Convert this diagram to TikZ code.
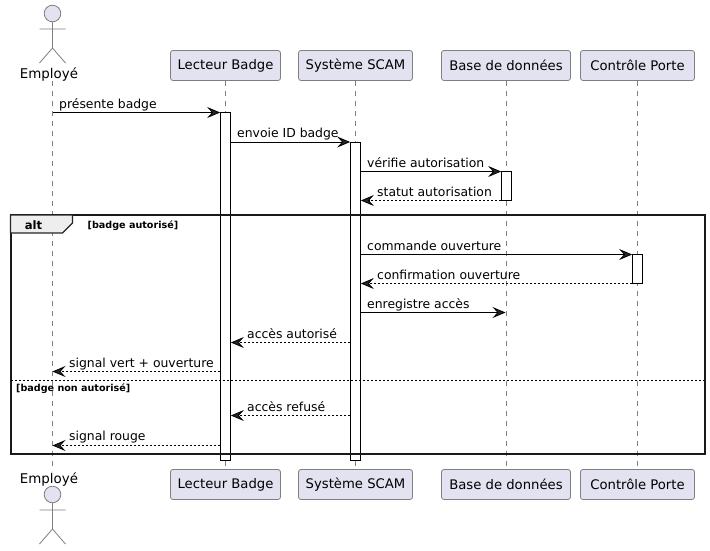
\documentclass[tikz,border=0pt]{standalone}
\usepackage{fontspec}
\setmainfont{DejaVu Sans}
\usetikzlibrary{arrows.meta}
\definecolor{partfill}{HTML}{E2E2F0}
\definecolor{partline}{HTML}{7F7F7F}
\definecolor{tabfill}{HTML}{EEEEEE}
\tikzset{
  x=1pt,y=-1pt,
  part/.style={draw=partline,fill=partfill,rounded corners=2.5pt,line width=.8pt,minimum height=30pt,inner sep=0pt,font=\fontsize{13.2}{15}\selectfont,text=black},
  actorline/.style={draw=partline,line width=.8pt},
  actorlabel/.style={font=\fontsize{13.4}{15}\selectfont,text=black,inner sep=0pt,anchor=base},
  life/.style={draw=partline,line width=.7pt,dash pattern=on 5pt off 5pt},
  actbar/.style={draw=black,fill=white,line width=.8pt},
  msg/.style={draw=black,line width=.8pt,-{Stealth[length=13pt,width=11pt,inset=5pt,fill=black!85]}},
  ret/.style={msg,dash pattern=on 2pt off 2pt},
  lab/.style={font=\fontsize{12.4}{14}\selectfont,text=black,inner sep=0pt,anchor=base west},
  guard/.style={font=\bfseries\fontsize{9.6}{11}\selectfont,inner sep=0pt,anchor=base west},
}
\begin{document}
\begin{tikzpicture}
\useasboundingbox (0,0) rectangle (710,550);
\fill[white] (0,0) rectangle (710,550);
% lifeline x positions
\coordinate (eX) at (52.5,0);
\coordinate (bX) at (505.5,0);
% participants
\node[part,minimum width=110pt] (lt) at (225.5,65.5) {Lecteur Badge};
\node[part,minimum width=114pt] (st) at (355.5,65.5) {Système SCAM};
\node[part,minimum width=129pt] (bt) at (506,65.5) {Base de données};
\node[part,minimum width=114pt] (ct) at (637.5,65.5) {Contrôle Porte};
\node[part,minimum width=110pt] (lb) at (225.5,484.5) {Lecteur Badge};
\node[part,minimum width=114pt] (sb) at (355.5,484.5) {Système SCAM};
\node[part,minimum width=129pt] (bb) at (506,484.5) {Base de données};
\node[part,minimum width=114pt] (cb) at (637.5,484.5) {Contrôle Porte};
\node[actorlabel] (et) at (49,78.5) {Employé};
\node[actorlabel] (eb) at (49,483) {Employé};
% lifelines
\coordinate (etl) at (52.5,81);
\coordinate (ebl) at (52.5,471);
\draw[life] (etl) -- (ebl);
\draw[life] (lt) -- (lb);
\draw[life] (st) -- (sb);
\draw[life] (bt) -- (bb);
\draw[life] (ct) -- (cb);
% actors
\draw[actorline,fill=partfill] (52.5,13.5) circle (8.3);
\draw[actorline] (52.5,22) -- (52.5,48) (39.5,29) -- (65.5,29) (39.5,63) -- (52.5,48) -- (65.5,63);
\draw[actorline,fill=partfill] (52.5,494.5) circle (8.3);
\draw[actorline] (52.5,503) -- (52.5,529) (39.5,510) -- (65.5,510) (39.5,544) -- (52.5,529) -- (65.5,544);
% activation bars
\node[actbar,minimum width=10pt,minimum height=348pt,inner sep=0pt] (la) at (225.5,286.5) {};
\node[actbar,minimum width=10pt,minimum height=318.5pt,inner sep=0pt] (sa) at (355.5,301.25) {};
\node[actbar,minimum width=10pt,minimum height=29pt,inner sep=0pt] (ba) at (506.5,186) {};
\node[actbar,minimum width=10pt,minimum height=29pt,inner sep=0pt] (ca) at (637.5,269) {};
% frame
\draw[line width=2pt,draw=black!90] (10.5,215) rectangle (704.5,453.5);
\draw[draw=black!85,line width=1.1pt,fill=tabfill] (10.5,215) -- (72.5,215) -- (72.5,223) -- (62.5,233) -- (10.5,233) -- cycle;
\node[font=\bfseries\fontsize{11.6}{14}\selectfont,inner sep=0pt,anchor=base] (alt) at (33.5,229) {alt};
\coordinate (sepl) at (11,380.5);
\coordinate (sepr) at (704,380.5);
\draw[black,line width=.7pt,dash pattern=on 2pt off 2pt] (sepl) -- (sepr);
\node[guard] (g1) at (87.5,228.3) {[badge autorisé]};
\node[guard] (g2) at (16,391.3) {[badge non autorisé]};
% message rows
\foreach \n/\y in {a/112.5,b/142,c/171.5,d/200.5,e/254.5,f/283.5,g/312.5,h/342.5,i/371.5,j/415.5,k/445.5}{\coordinate (\n) at (0,\y);}
\draw[msg] (eX |- a) -- (la.west |- a);
\draw[msg] (la.east |- b) -- (sa.west |- b);
\draw[msg] (sa.east |- c) -- (ba.west |- c);
\draw[ret] (ba.west |- d) -- (sa.east |- d);
\draw[msg] (sa.east |- e) -- (ca.west |- e);
\draw[ret] (ca.west |- f) -- (sa.east |- f);
\draw[msg] (sa.east |- g) -- (bX |- g);
\draw[ret] (sa.west |- h) -- (la.east |- h);
\draw[ret] (la.west |- i) -- (eX |- i);
\draw[ret] (sa.west |- j) -- (la.east |- j);
\draw[ret] (la.west |- k) -- (eX |- k);
% message labels
\node[lab] (t1) at (59,108) {présente badge};
\node[lab] (t2) at (237,137) {envoie ID badge};
\node[lab] (t3) at (367,167) {vérifie autorisation};
\node[lab] (t4) at (377,196) {statut autorisation};
\node[lab] (t5) at (367,250) {commande ouverture};
\node[lab] (t6) at (377,279) {confirmation ouverture};
\node[lab] (t7) at (367,308) {enregistre accès};
\node[lab] (t8) at (247,338) {accès autorisé};
\node[lab] (t9) at (69,367) {signal vert + ouverture};
\node[lab] (t10) at (247,411) {accès refusé};
\node[lab] (t11) at (69,440) {signal rouge};
\end{tikzpicture}
\end{document}
